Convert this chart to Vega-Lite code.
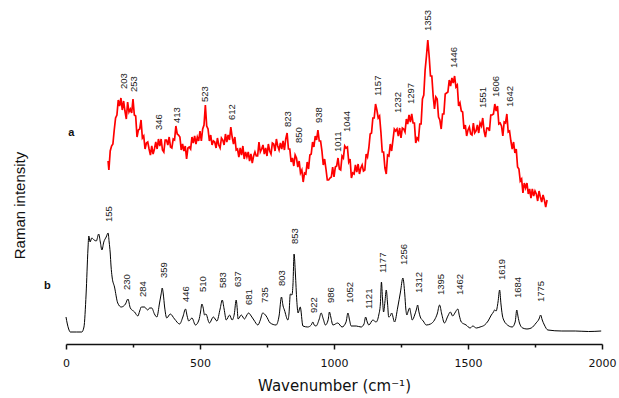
{
"$schema":"https://vega.github.io/schema/vega-lite/v6.json",
"width":536,"height":340,
"autosize":{"type":"none"},
"padding":{"left":66,"top":4,"right":17,"bottom":54},
"background":"white",
"config":{"view":{"stroke":null}},
"datasets":{
"red":[{"w":157,"v":183},{"w":160,"v":174},{"w":165,"v":193},{"w":170,"v":198},{"w":175,"v":200},{"w":180,"v":214},{"w":185,"v":226},{"w":190,"v":229},{"w":195,"v":244},{"w":200,"v":238},{"w":205,"v":246},{"w":210,"v":234},{"w":215,"v":243},{"w":220,"v":233},{"w":225,"v":225},{"w":230,"v":242},{"w":235,"v":232},{"w":240,"v":235},{"w":245,"v":231},{"w":250,"v":245},{"w":255,"v":229},{"w":260,"v":228},{"w":265,"v":207},{"w":270,"v":214},{"w":275,"v":215},{"w":280,"v":224},{"w":285,"v":206},{"w":290,"v":208},{"w":295,"v":195},{"w":300,"v":201},{"w":305,"v":202},{"w":310,"v":195},{"w":315,"v":189},{"w":320,"v":198},{"w":325,"v":190},{"w":330,"v":195},{"w":335,"v":202},{"w":340,"v":195},{"w":345,"v":205},{"w":350,"v":198},{"w":355,"v":205},{"w":360,"v":194},{"w":365,"v":192},{"w":370,"v":204},{"w":375,"v":204},{"w":380,"v":199},{"w":385,"v":207},{"w":390,"v":197},{"w":395,"v":196},{"w":400,"v":205},{"w":405,"v":204},{"w":410,"v":218},{"w":415,"v":210},{"w":420,"v":209},{"w":425,"v":207},{"w":430,"v":194},{"w":435,"v":200},{"w":440,"v":193},{"w":445,"v":198},{"w":450,"v":185},{"w":455,"v":196},{"w":460,"v":197},{"w":465,"v":195},{"w":470,"v":207},{"w":475,"v":201},{"w":480,"v":208},{"w":485,"v":200},{"w":490,"v":207},{"w":495,"v":203},{"w":500,"v":213},{"w":505,"v":203},{"w":510,"v":215},{"w":515,"v":219},{"w":520,"v":239},{"w":525,"v":218},{"w":530,"v":215},{"w":535,"v":203},{"w":540,"v":209},{"w":545,"v":199},{"w":550,"v":203},{"w":555,"v":202},{"w":560,"v":196},{"w":565,"v":206},{"w":570,"v":199},{"w":575,"v":196},{"w":580,"v":206},{"w":585,"v":204},{"w":590,"v":199},{"w":595,"v":210},{"w":600,"v":202},{"w":605,"v":209},{"w":610,"v":204},{"w":615,"v":217},{"w":620,"v":207},{"w":625,"v":200},{"w":630,"v":207},{"w":635,"v":194},{"w":640,"v":195},{"w":645,"v":187},{"w":650,"v":196},{"w":655,"v":189},{"w":660,"v":198},{"w":665,"v":185},{"w":670,"v":192},{"w":675,"v":187},{"w":680,"v":192},{"w":685,"v":183},{"w":690,"v":190},{"w":695,"v":181},{"w":700,"v":188},{"w":705,"v":192},{"w":710,"v":188},{"w":715,"v":188},{"w":720,"v":202},{"w":725,"v":192},{"w":730,"v":195},{"w":735,"v":199},{"w":740,"v":190},{"w":745,"v":196},{"w":750,"v":188},{"w":755,"v":200},{"w":760,"v":193},{"w":765,"v":190},{"w":770,"v":201},{"w":775,"v":200},{"w":780,"v":193},{"w":785,"v":205},{"w":790,"v":198},{"w":795,"v":194},{"w":800,"v":201},{"w":805,"v":195},{"w":810,"v":203},{"w":815,"v":194},{"w":820,"v":205},{"w":825,"v":211},{"w":830,"v":195},{"w":835,"v":195},{"w":840,"v":182},{"w":845,"v":186},{"w":850,"v":178},{"w":855,"v":189},{"w":860,"v":186},{"w":865,"v":177},{"w":870,"v":183},{"w":875,"v":171},{"w":880,"v":174},{"w":885,"v":162},{"w":890,"v":171},{"w":895,"v":170},{"w":900,"v":182},{"w":905,"v":175},{"w":910,"v":189},{"w":915,"v":190},{"w":920,"v":202},{"w":925,"v":197},{"w":930,"v":208},{"w":935,"v":204},{"w":940,"v":214},{"w":945,"v":203},{"w":950,"v":203},{"w":955,"v":193},{"w":960,"v":179},{"w":965,"v":185},{"w":970,"v":175},{"w":975,"v":164},{"w":980,"v":164},{"w":985,"v":166},{"w":990,"v":167},{"w":995,"v":177},{"w":1000,"v":167},{"w":1005,"v":177},{"w":1010,"v":178},{"w":1015,"v":186},{"w":1020,"v":175},{"w":1025,"v":174},{"w":1030,"v":188},{"w":1035,"v":186},{"w":1040,"v":198},{"w":1045,"v":196},{"w":1050,"v":197},{"w":1055,"v":182},{"w":1060,"v":185},{"w":1065,"v":166},{"w":1070,"v":171},{"w":1075,"v":170},{"w":1080,"v":179},{"w":1085,"v":172},{"w":1090,"v":180},{"w":1095,"v":170},{"w":1100,"v":176},{"w":1105,"v":179},{"w":1110,"v":173},{"w":1115,"v":174},{"w":1120,"v":190},{"w":1125,"v":187},{"w":1130,"v":196},{"w":1135,"v":210},{"w":1140,"v":211},{"w":1145,"v":226},{"w":1150,"v":226},{"w":1155,"v":240},{"w":1160,"v":234},{"w":1165,"v":226},{"w":1170,"v":228},{"w":1175,"v":212},{"w":1180,"v":192},{"w":1185,"v":192},{"w":1190,"v":176},{"w":1195,"v":170},{"w":1200,"v":189},{"w":1205,"v":188},{"w":1210,"v":200},{"w":1215,"v":193},{"w":1220,"v":204},{"w":1225,"v":215},{"w":1230,"v":213},{"w":1235,"v":215},{"w":1240,"v":208},{"w":1245,"v":216},{"w":1250,"v":206},{"w":1255,"v":216},{"w":1260,"v":215},{"w":1265,"v":212},{"w":1270,"v":225},{"w":1275,"v":220},{"w":1280,"v":229},{"w":1285,"v":222},{"w":1290,"v":230},{"w":1295,"v":221},{"w":1300,"v":221},{"w":1305,"v":201},{"w":1310,"v":206},{"w":1315,"v":204},{"w":1320,"v":220},{"w":1325,"v":220},{"w":1330,"v":245},{"w":1335,"v":249},{"w":1340,"v":274},{"w":1345,"v":288},{"w":1350,"v":304},{"w":1355,"v":288},{"w":1360,"v":268},{"w":1365,"v":268},{"w":1370,"v":248},{"w":1375,"v":235},{"w":1380,"v":247},{"w":1385,"v":245},{"w":1390,"v":227},{"w":1395,"v":224},{"w":1400,"v":215},{"w":1405,"v":230},{"w":1410,"v":230},{"w":1415,"v":250},{"w":1420,"v":251},{"w":1425,"v":252},{"w":1430,"v":264},{"w":1435,"v":258},{"w":1440,"v":266},{"w":1445,"v":261},{"w":1450,"v":268},{"w":1455,"v":257},{"w":1460,"v":259},{"w":1465,"v":238},{"w":1470,"v":241},{"w":1475,"v":233},{"w":1480,"v":232},{"w":1485,"v":215},{"w":1490,"v":219},{"w":1495,"v":208},{"w":1500,"v":214},{"w":1505,"v":217},{"w":1510,"v":210},{"w":1515,"v":209},{"w":1520,"v":221},{"w":1525,"v":211},{"w":1530,"v":213},{"w":1535,"v":219},{"w":1540,"v":211},{"w":1545,"v":221},{"w":1550,"v":218},{"w":1555,"v":226},{"w":1560,"v":213},{"w":1565,"v":207},{"w":1570,"v":216},{"w":1575,"v":216},{"w":1580,"v":213},{"w":1585,"v":229},{"w":1590,"v":229},{"w":1595,"v":230},{"w":1600,"v":240},{"w":1605,"v":233},{"w":1610,"v":238},{"w":1615,"v":220},{"w":1620,"v":221},{"w":1625,"v":218},{"w":1630,"v":208},{"w":1635,"v":222},{"w":1640,"v":221},{"w":1645,"v":230},{"w":1650,"v":212},{"w":1655,"v":213},{"w":1660,"v":203},{"w":1665,"v":195},{"w":1670,"v":202},{"w":1675,"v":191},{"w":1680,"v":195},{"w":1685,"v":177},{"w":1690,"v":175},{"w":1695,"v":163},{"w":1700,"v":165},{"w":1705,"v":151},{"w":1710,"v":161},{"w":1715,"v":156},{"w":1720,"v":161},{"w":1725,"v":150},{"w":1730,"v":155},{"w":1735,"v":146},{"w":1740,"v":155},{"w":1745,"v":148},{"w":1750,"v":153},{"w":1755,"v":150},{"w":1760,"v":143},{"w":1765,"v":153},{"w":1770,"v":147},{"w":1775,"v":142},{"w":1780,"v":149},{"w":1785,"v":144},{"w":1790,"v":137},{"w":1795,"v":144}],
"black":[{"w":0,"v":27},{"w":5,"v":20},{"w":10,"v":15},{"w":16,"v":12},{"w":40,"v":12},{"w":59,"v":12},{"w":67,"v":17},{"w":75,"v":50},{"w":82,"v":95},{"w":85,"v":108},{"w":90,"v":102},{"w":96,"v":106},{"w":105,"v":104},{"w":113,"v":103},{"w":122,"v":110},{"w":128,"v":102},{"w":134,"v":94},{"w":141,"v":102},{"w":150,"v":107},{"w":157,"v":111},{"w":161,"v":102},{"w":165,"v":91},{"w":168,"v":78},{"w":172,"v":67},{"w":181,"v":57},{"w":193,"v":41},{"w":206,"v":37},{"w":222,"v":40},{"w":231,"v":45},{"w":240,"v":36},{"w":256,"v":32},{"w":268,"v":28},{"w":275,"v":33},{"w":281,"v":37},{"w":293,"v":37},{"w":300,"v":35},{"w":305,"v":34},{"w":312,"v":36},{"w":320,"v":36},{"w":330,"v":30},{"w":339,"v":27},{"w":349,"v":41},{"w":355,"v":50},{"w":359,"v":56},{"w":363,"v":50},{"w":368,"v":37},{"w":376,"v":26},{"w":389,"v":30},{"w":405,"v":25},{"w":424,"v":20},{"w":436,"v":27},{"w":446,"v":35},{"w":452,"v":28},{"w":458,"v":23},{"w":470,"v":26},{"w":483,"v":19},{"w":496,"v":24},{"w":502,"v":32},{"w":507,"v":40},{"w":512,"v":36},{"w":517,"v":29},{"w":522,"v":30},{"w":535,"v":21},{"w":550,"v":27},{"w":563,"v":23},{"w":575,"v":35},{"w":583,"v":44},{"w":590,"v":35},{"w":598,"v":24},{"w":610,"v":29},{"w":620,"v":24},{"w":628,"v":30},{"w":635,"v":44},{"w":639,"v":35},{"w":642,"v":25},{"w":654,"v":29},{"w":666,"v":25},{"w":675,"v":29},{"w":681,"v":31},{"w":691,"v":28},{"w":701,"v":24},{"w":716,"v":19},{"w":725,"v":24},{"w":734,"v":31},{"w":747,"v":28},{"w":762,"v":21},{"w":784,"v":19},{"w":795,"v":28},{"w":804,"v":47},{"w":810,"v":38},{"w":815,"v":34},{"w":828,"v":24},{"w":832,"v":30},{"w":837,"v":50},{"w":843,"v":49},{"w":847,"v":60},{"w":851,"v":90},{"w":856,"v":70},{"w":861,"v":44},{"w":866,"v":31},{"w":874,"v":37},{"w":884,"v":18},{"w":902,"v":17},{"w":915,"v":19},{"w":921,"v":22},{"w":926,"v":19},{"w":933,"v":18},{"w":945,"v":25},{"w":952,"v":31},{"w":960,"v":25},{"w":968,"v":19},{"w":978,"v":24},{"w":983,"v":32},{"w":988,"v":27},{"w":996,"v":19},{"w":1014,"v":21},{"w":1030,"v":17},{"w":1045,"v":22},{"w":1052,"v":31},{"w":1058,"v":24},{"w":1064,"v":18},{"w":1083,"v":18},{"w":1101,"v":17},{"w":1112,"v":20},{"w":1118,"v":27},{"w":1124,"v":22},{"w":1130,"v":19},{"w":1145,"v":24},{"w":1157,"v":22},{"w":1167,"v":29},{"w":1173,"v":40},{"w":1177,"v":62},{"w":1181,"v":45},{"w":1185,"v":32},{"w":1190,"v":42},{"w":1195,"v":54},{"w":1200,"v":40},{"w":1204,"v":27},{"w":1210,"v":28},{"w":1215,"v":31},{"w":1226,"v":22},{"w":1238,"v":37},{"w":1248,"v":52},{"w":1257,"v":66},{"w":1264,"v":50},{"w":1268,"v":35},{"w":1272,"v":29},{"w":1277,"v":33},{"w":1282,"v":36},{"w":1287,"v":30},{"w":1292,"v":24},{"w":1301,"v":29},{"w":1308,"v":35},{"w":1312,"v":39},{"w":1317,"v":32},{"w":1322,"v":27},{"w":1333,"v":23},{"w":1344,"v":19},{"w":1360,"v":20},{"w":1375,"v":24},{"w":1385,"v":30},{"w":1394,"v":39},{"w":1402,"v":30},{"w":1412,"v":21},{"w":1425,"v":28},{"w":1434,"v":32},{"w":1443,"v":28},{"w":1451,"v":31},{"w":1462,"v":35},{"w":1468,"v":28},{"w":1475,"v":22},{"w":1493,"v":19},{"w":1508,"v":16},{"w":1518,"v":18},{"w":1531,"v":16},{"w":1545,"v":17},{"w":1562,"v":19},{"w":1575,"v":23},{"w":1587,"v":29},{"w":1595,"v":32},{"w":1599,"v":34},{"w":1605,"v":33},{"w":1612,"v":42},{"w":1618,"v":54},{"w":1623,"v":40},{"w":1628,"v":29},{"w":1635,"v":23},{"w":1643,"v":20},{"w":1665,"v":17},{"w":1676,"v":22},{"w":1682,"v":34},{"w":1687,"v":27},{"w":1692,"v":21},{"w":1704,"v":16},{"w":1720,"v":15},{"w":1736,"v":16},{"w":1754,"v":21},{"w":1765,"v":25},{"w":1771,"v":29},{"w":1777,"v":24},{"w":1785,"v":19},{"w":1798,"v":14},{"w":1850,"v":13},{"w":1900,"v":13},{"w":1950,"v":12.5},{"w":1997,"v":13}],
"peaks":[{"w":215,"v":255,"t":"203"},{"w":253,"v":252,"t":"253"},{"w":346,"v":214,"t":"346"},{"w":413,"v":221,"t":"413"},{"w":520,"v":242,"t":"523"},{"w":620,"v":224,"t":"612"},{"w":830,"v":217,"t":"823"},{"w":868,"v":201,"t":"850"},{"w":943,"v":221,"t":"938"},{"w":1014,"v":192,"t":"1011"},{"w":1048,"v":212,"t":"1044"},{"w":1163,"v":248,"t":"1157"},{"w":1238,"v":231,"t":"1232"},{"w":1288,"v":240,"t":"1297"},{"w":1350,"v":313,"t":"1353"},{"w":1446,"v":276,"t":"1446"},{"w":1555,"v":236,"t":"1551"},{"w":1603,"v":247,"t":"1606"},{"w":1655,"v":237,"t":"1642"},
{"w":162,"v":122,"t":"155"},{"w":228,"v":54,"t":"230"},{"w":287,"v":47,"t":"284"},{"w":364,"v":66,"t":"359"},{"w":446,"v":42,"t":"446"},{"w":510,"v":52,"t":"510"},{"w":585,"v":56,"t":"583"},{"w":641,"v":57,"t":"637"},{"w":682,"v":39,"t":"681"},{"w":741,"v":41,"t":"735"},{"w":805,"v":58,"t":"803"},{"w":856,"v":100,"t":"853"},{"w":927,"v":31,"t":"922"},{"w":990,"v":41,"t":"986"},{"w":1058,"v":41,"t":"1052"},{"w":1130,"v":35,"t":"1121"},{"w":1182,"v":71,"t":"1177"},{"w":1263,"v":79,"t":"1256"},{"w":1316,"v":51,"t":"1312"},{"w":1400,"v":49,"t":"1395"},{"w":1471,"v":49,"t":"1462"},{"w":1628,"v":64,"t":"1619"},{"w":1686,"v":46,"t":"1684"},{"w":1773,"v":42,"t":"1775"}],
"tags":[{"w":20,"v":211,"t":"a"},{"w":-70,"v":58,"t":"b"}]
},
"resolve":{"axis":{"x":"independent"}},
"layer":[
{"data":{"name":"red"},"mark":{"type":"line","color":"#ff0000","strokeWidth":1.7},
"encoding":{
"x":{"field":"w","type":"quantitative","scale":{"domain":[0,2000],"nice":false,"zero":false},
"axis":{"orient":"bottom","values":[0,500,1000,1500,2000],"format":"d","grid":false,"domainColor":"#111","domainWidth":1.5,"tickColor":"#111","tickWidth":1.5,"tickSize":5,"labelFont":"DejaVu Sans","labelFontSize":11,"labelColor":"#111","labelPadding":8,"labelFlush":false,"title":"Wavenumber (cm⁻¹)","titleFont":"DejaVu Sans","titleFontSize":15,"titleFontWeight":"normal","titleColor":"#111","titleX":268,"titleY":41,"titleBaseline":"middle","titleAlign":"center"}},
"y":{"field":"v","type":"quantitative","scale":{"domain":[0,340],"nice":false,"zero":false},
"axis":{"orient":"left","domain":true,"domainOpacity":0,"ticks":false,"labels":false,"grid":false,"title":"Raman intensity","titleFont":"Liberation Sans","titleFontSize":15,"titleFontWeight":"normal","titleColor":"#111","titleAngle":270,"titleX":-47,"titleY":201,"titleAlign":"center","titleBaseline":"middle"}}}},
{"data":{"name":"black"},"mark":{"type":"line","color":"#000000","strokeWidth":1,"interpolate":"monotone"},
"encoding":{
"x":{"field":"w","type":"quantitative","scale":{"domain":[0,2000],"nice":false,"zero":false},
"axis":{"orient":"bottom","values":[250,750,1250,1750],"labels":false,"domain":false,"grid":false,"tickColor":"#111","tickWidth":1.5,"tickSize":3,"title":null}},
"y":{"field":"v","type":"quantitative"}}},
{"data":{"name":"peaks"},"mark":{"type":"text","angle":270,"align":"left","baseline":"middle","font":"Liberation Sans","fontSize":9.5,"color":"#222"},
"encoding":{"x":{"field":"w","type":"quantitative","axis":null},"y":{"field":"v","type":"quantitative"},"text":{"field":"t"}}},
{"data":{"name":"tags"},"mark":{"type":"text","align":"center","baseline":"middle","font":"Liberation Sans","fontSize":11,"fontWeight":"bold","color":"#111"},
"encoding":{"x":{"field":"w","type":"quantitative","axis":null},"y":{"field":"v","type":"quantitative"},"text":{"field":"t"}}}
]
}
